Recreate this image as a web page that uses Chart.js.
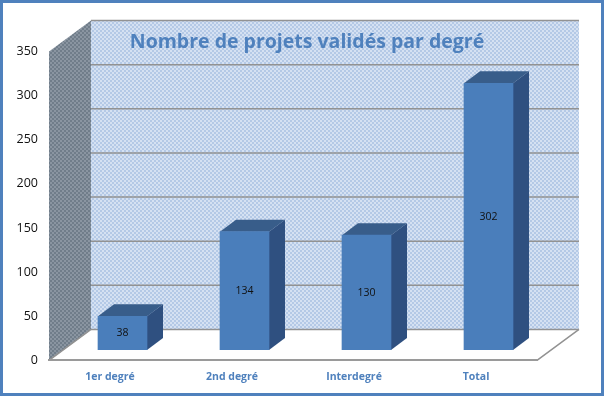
<!DOCTYPE html>
<html>
<head>
<meta charset="utf-8">
<script src="https://cdn.jsdelivr.net/npm/chart.js@4"></script>
<style>
  html, body { margin: 0; background: #fff; }
  #frame { position: relative; width: 604px; height: 396px; box-sizing: border-box; border: 3px solid #4f81bd; }
  canvas { position: absolute; left: -3px; top: -3px; }
</style>
</head>
<body>
<div id="frame"><canvas id="chart" width="605" height="396"></canvas></div>
<script>
const categories = ['1er degré', '2nd degré', 'Interdegré', 'Total'];
const projets = [38, 134, 130, 302];
const yTicks = [0, 50, 100, 150, 200, 250, 300, 350];

// dotted fill used by the walls
function dots(bg, fg) {
  const c = document.createElement('canvas');
  c.width = 4; c.height = 4;
  const p = c.getContext('2d');
  p.fillStyle = bg; p.fillRect(0, 0, 4, 4);
  p.fillStyle = fg;
  p.fillRect(0, 0, 2, 2); p.fillRect(2, 2, 2, 2);
  return p.createPattern(c, 'repeat');
}

function poly(ctx, pts, fill) {
  ctx.beginPath();
  pts.forEach((q, i) => i ? ctx.lineTo(q[0], q[1]) : ctx.moveTo(q[0], q[1]));
  ctx.closePath();
  ctx.fillStyle = fill;
  ctx.fill();
}

const wallDX = 42, wallDY = 31;   // depth of the box
const barDX = 12.5, barDY = 10.5; // bars stand a bit inside the floor
const sideDX = 16, sideDY = 12;   // depth of a bar

const box3d = {
  id: 'box3d',
  // the title sits over the back wall, not over the plot
  afterLayout(chart) {
    chart.titleBlock.left = 77;
  },
  beforeDraw(chart) {
    const { ctx, scales: { x, y } } = chart;
    const l = x.left, r = x.right, b = y.bottom, t = y.top;
    ctx.save();
    poly(ctx, [[l + wallDX, t - wallDY], [r + wallDX, t - wallDY], [r + wallDX, b - wallDY], [l + wallDX, b - wallDY]], dots('#b4c9e6', '#d5e1f2'));
    poly(ctx, [[l, t], [l + wallDX, t - wallDY], [l + wallDX, b - wallDY], [l, b]], dots('#707d8a', '#8a95a1'));
    ctx.strokeStyle = '#929292';
    ctx.lineWidth = 1.5;
    // gridlines on the back wall
    yTicks.forEach(v => {
      const py = y.getPixelForValue(v) - wallDY;
      ctx.beginPath();
      ctx.moveTo(l + wallDX, py);
      ctx.lineTo(r + wallDX, py);
      ctx.stroke();
    });
    // floor edges
    ctx.beginPath();
    ctx.moveTo(l, b);
    ctx.lineTo(l + wallDX, b - wallDY);
    ctx.moveTo(r, b);
    ctx.lineTo(r + wallDX, b - wallDY);
    ctx.stroke();
    ctx.restore();
  },
  // shift the bars so they stand on the floor, not on the front edge
  beforeDatasetDraw(chart) {
    const ctx = chart.ctx;
    ctx.save();
    ctx.translate(barDX, -barDY);
    chart.getDatasetMeta(0).data.forEach(bar => {
      const p = bar.getProps(['x', 'y', 'base', 'width'], true);
      const xr = p.x + p.width / 2, xl = p.x - p.width / 2;
      poly(ctx, [[xl, p.y], [xl + sideDX, p.y - sideDY], [xr + sideDX, p.y - sideDY], [xr, p.y]], '#385d8a');
      poly(ctx, [[xr, p.y], [xr + sideDX, p.y - sideDY], [xr + sideDX, p.base - sideDY], [xr, p.base]], '#2f5080');
    });
  },
  afterDatasetDraw(chart) {
    const ctx = chart.ctx;
    ctx.font = '10.5px "Open Sans", sans-serif';
    ctx.fillStyle = '#111';
    ctx.textAlign = 'center';
    ctx.textBaseline = 'middle';
    chart.getDatasetMeta(0).data.forEach((bar, i) => {
      const p = bar.getProps(['x', 'y', 'base'], true);
      ctx.fillText(projets[i], p.x, (p.y + p.base) / 2);
    });
    ctx.restore();
  }
};

new Chart(document.getElementById('chart'), {
  type: 'bar',
  data: {
    labels: categories,
    datasets: [{
      label: 'Projets validés',
      data: projets,
      backgroundColor: '#4a7ebb',
      barThickness: 49
    }]
  },
  options: {
    responsive: false,
    animation: false,
    layout: { padding: { left: 0, right: 68, top: 0, bottom: 8 } },
    plugins: {
      legend: { display: false },
      tooltip: { enabled: false },
      title: {
        display: true,
        text: 'Nombre de projets validés par degré',
        color: '#4f81bd',
        font: { family: '"Open Sans", sans-serif', size: 19.5, weight: 'bold', lineHeight: 1 },
        padding: { top: 33, bottom: -1 }
      }
    },
    scales: {
      x: {
        grid: { display: false, drawTicks: true, tickLength: 5, tickColor: '#9a9a9a', offset: true },
        border: { color: '#9a9a9a', width: 2 },
        ticks: { color: '#4f81bd', padding: 5, font: { family: '"Open Sans", sans-serif', size: 10.5, weight: 'bold' } }
      },
      y: {
        min: 0,
        max: 350,
        afterBuildTicks(axis) { axis.ticks = yTicks.map(v => ({ value: v })); },
        afterFit(axis) { axis.width = 49; },
        grid: { display: false, drawTicks: true, tickLength: 5, tickColor: '#9a9a9a' },
        border: { display: false },
        ticks: { color: '#111', padding: 6, font: { family: '"Open Sans", sans-serif', size: 12.5 } }
      }
    }
  },
  plugins: [box3d]
});
</script>
</body>
</html>
